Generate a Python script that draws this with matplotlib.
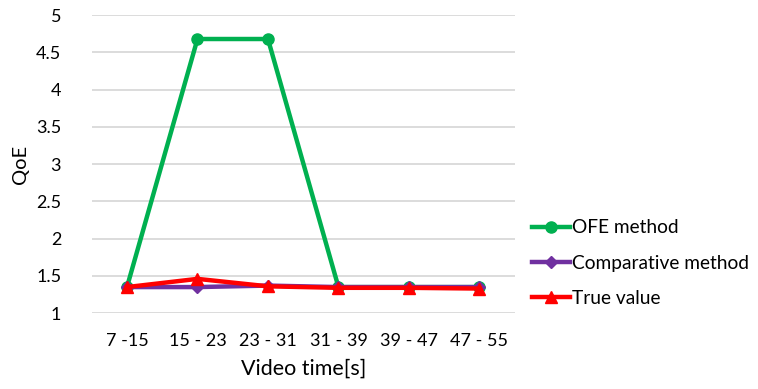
import matplotlib.pyplot as plt
import numpy as np

plt.rcParams['font.family'] = ['Lato', 'DejaVu Sans']

# 视频时间段
periods = ['7 -15', '15 - 23', '23 - 31', '31 - 39', '39 - 47', '47 - 55']
ofe = [1.35, 4.68, 4.68, 1.35, 1.35, 1.35]
comparative = [1.35, 1.35, 1.37, 1.35, 1.35, 1.35]
true_value = [1.35, 1.46, 1.36, 1.34, 1.34, 1.33]

fig = plt.figure(figsize=(7.58, 3.89), dpi=100)
ax = fig.add_axes([0.121, 0.195, 0.558, 0.766])

x = np.arange(len(periods))
ax.plot(x, ofe, color='#00b050', lw=3.2, marker='o', ms=8, label='OFE method')
ax.plot(x, comparative, color='#7030a0', lw=3.2, marker='D', ms=6, label='Comparative method')
ax.plot(x, true_value, color='#ff0000', lw=3.2, marker='^', ms=9, label='True value')

ax.set_xlim(-0.5, len(periods) - 0.5)
ax.set_ylim(1, 5)
ax.set_yticks(np.arange(1, 5.01, 0.5))
ax.set_yticklabels(['1', '1.5', '2', '2.5', '3', '3.5', '4', '4.5', '5'])
ax.set_xticks(x)
ax.set_xticklabels(periods)
ax.tick_params(length=0, labelsize=13, colors='#000000', pad=14)
ax.tick_params(axis='y', pad=22)
ax.grid(axis='y', color='#d9d9d9', lw=1.3)
ax.set_axisbelow(True)
for s in ax.spines.values():
    s.set_visible(False)

ax.set_xlabel('Video time[s]', fontsize=15.5, labelpad=7)
ax.set_ylabel('QoE', fontsize=14.5, labelpad=5)

ax.legend(loc='center left', bbox_to_anchor=(1.0, 0.168), frameon=False,
          fontsize=13.8, handlelength=2.0, handletextpad=0.1, labelspacing=0.95)

fig.savefig('out.png', dpi=100)
